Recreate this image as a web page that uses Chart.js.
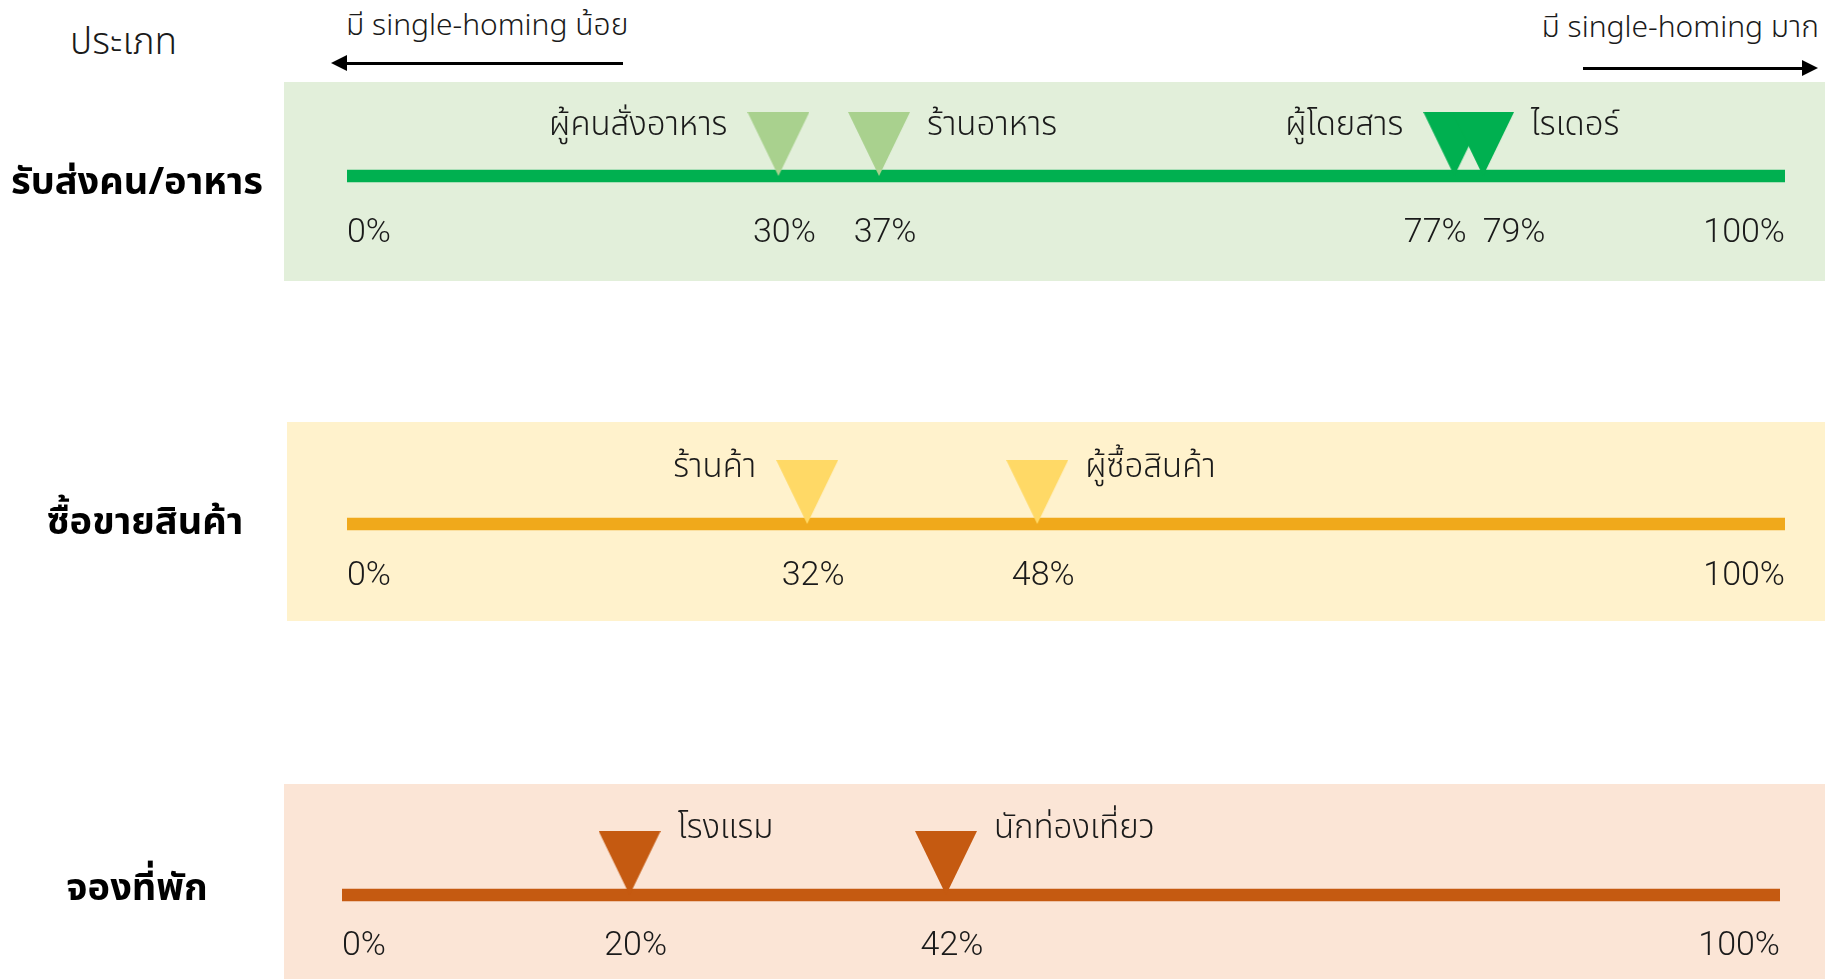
<!DOCTYPE html>
<html><head><meta charset="utf-8">
<script src="https://cdn.jsdelivr.net/npm/chart.js@4.4.1/dist/chart.umd.min.js"></script>
<style>
html,body{margin:0;padding:0;background:#fff;}
body{width:1825px;height:979px;position:relative;overflow:hidden;font-family:"Noto Sans Thai","Noto Sans Thai Looped","Noto Sans",Roboto,sans-serif;}
.rowbox{position:absolute;left:0;width:1825px;}
.hdr{position:absolute;white-space:nowrap;color:#1a1a1a;line-height:1;font-weight:300;}
.arrow{position:absolute;height:3px;background:#000;}
.arrow::before{content:"";position:absolute;top:-7px;border-top:8.5px solid transparent;border-bottom:8.5px solid transparent;}
.arrow.left::before{left:-15px;border-right:16px solid #000;}
.arrow.right::before{right:-15px;border-left:16px solid #000;}
</style></head>
<body>
<div id="title" class="hdr" style="left:70px;top:25px;font-size:37px;"></div>
<div id="noteL" class="hdr" style="left:346px;top:11px;font-size:30px;"></div>
<div class="arrow left" style="left:346px;top:62px;width:277px;"></div>
<div id="noteR" class="hdr" style="right:6px;top:13px;font-size:30px;"></div>
<div class="arrow right" style="left:1583px;top:67px;width:220px;"></div>
<div id="rows"></div>
<script>
// ---- data ----
const categories = ['รับส่งคน/อาหาร', 'ซื้อขายสินค้า', 'จองที่พัก'];
const rideFoodGroups = ['ผู้คนสั่งอาหาร', 'ร้านอาหาร', 'ผู้โดยสาร', 'ไรเดอร์'];
const rideFoodShare = [30, 37, 77, 79];
const shoppingGroups = ['ร้านค้า', 'ผู้ซื้อสินค้า'];
const shoppingShare = [32, 48];
const lodgingGroups = ['โรงแรม', 'นักท่องเที่ยว'];
const lodgingShare = [20, 42];
const scaleEnds = [0, 100];
const headerTitle = 'ประเภท';
const noteLeft = 'มี single-homing น้อย';
const noteRight = 'มี single-homing มาก';

document.getElementById('title').textContent = headerTitle;
document.getElementById('noteL').textContent = noteLeft;
document.getElementById('noteR').textContent = noteRight;

const THAI = '"Noto Sans Thai","Noto Sans Thai Looped","Noto Sans",sans-serif';
const NUM = 'Roboto,"Noto Sans",sans-serif';

const rows = [
  {category: categories[0], groups: rideFoodGroups, values: rideFoodShare},
  {category: categories[1], groups: shoppingGroups, values: shoppingShare},
  {category: categories[2], groups: lodgingGroups, values: lodgingShare}
];
// ---- layout / style ----
const layout = [
  {panelTop:82, panelBottom:281, panelLeft:284, lineY:176, lineStart:347, lineEnd:1785, line:'#00B050', bg:'#E2EFDA',
   marker:['#A9D18E','#A9D18E','#00B050','#00B050'], sides:['left','right','left','right'], nameOffset:41, valueOffset:57, catX:137, catDy:10},
  {panelTop:422, panelBottom:621, panelLeft:287, lineY:524, lineStart:347, lineEnd:1785, line:'#F0A91B', bg:'#FFF2CC',
   marker:['#FFD966','#FFD966'], sides:['left','right'], nameOffset:47, valueOffset:52, catX:145, catDy:2},
  {panelTop:784, panelBottom:979, panelLeft:284, lineY:895, lineStart:342, lineEnd:1780, line:'#C55A11', bg:'#FBE5D6',
   marker:['#C55A11','#C55A11'], sides:['right','right'], nameOffset:57, valueOffset:51, catX:137, catDy:-3}
];

function triangle(color){
  const w = 62, h = 64;
  const c = document.createElement('canvas');
  c.width = w; c.height = h * 2;
  const g = c.getContext('2d');
  g.fillStyle = color;
  g.beginPath(); g.moveTo(0, 0); g.lineTo(w, 0); g.lineTo(w / 2, h); g.closePath(); g.fill();
  return c;
}

function makeDecor(row, L){
  return {
    id: 'decor',
    beforeDraw(chart){
      const ctx = chart.ctx;
      ctx.save();
      ctx.fillStyle = L.bg;
      ctx.fillRect(L.panelLeft, 0, chart.width - L.panelLeft, chart.height);
      ctx.restore();
    },
    afterDatasetsDraw(chart){
      const ctx = chart.ctx, xs = chart.scales.x, ys = chart.scales.y;
      const cy = ys.getPixelForValue(0);
      ctx.save();
      // category label
      ctx.fillStyle = '#000';
      ctx.font = 'bold 38px ' + THAI;
      ctx.textAlign = 'center'; ctx.textBaseline = 'middle';
      ctx.fillText(row.category, L.catX, cy + L.catDy);
      // group names
      ctx.fillStyle = '#1a1a1a';
      ctx.font = '300 33px ' + THAI;
      ctx.textBaseline = 'alphabetic';
      row.values.forEach((v, i) => {
        const px = xs.getPixelForValue(v);
        if (L.sides[i] === 'left') { ctx.textAlign = 'right'; ctx.fillText(row.groups[i], px - 51, cy - L.nameOffset); }
        else { ctx.textAlign = 'left'; ctx.fillText(row.groups[i], px + 48, cy - L.nameOffset); }
      });
      // value labels
      ctx.font = '300 34px ' + NUM;
      ctx.textBaseline = 'middle';
      const vy = cy + L.valueOffset;
      ctx.textAlign = 'left'; ctx.fillText(scaleEnds[0] + '%', xs.getPixelForValue(scaleEnds[0]), vy);
      ctx.textAlign = 'right'; ctx.fillText(scaleEnds[1] + '%', xs.getPixelForValue(scaleEnds[1]), vy);
      const items = row.values.map(v => {
        const t = v + '%';
        return {t, w: ctx.measureText(t).width, c: xs.getPixelForValue(v) + 6};
      }).sort((a, b) => a.c - b.c);
      for (let k = 0; k < 10; k++) {
        for (let i = 1; i < items.length; i++) {
          const a = items[i - 1], b = items[i];
          const need = (a.w + b.w) / 2 + 16, d = b.c - a.c;
          if (d < need) { const s = (need - d) / 2; a.c -= s; b.c += s; }
        }
      }
      ctx.textAlign = 'center';
      items.forEach(it => ctx.fillText(it.t, it.c, vy));
      ctx.restore();
    }
  };
}

const host = document.getElementById('rows');
rows.forEach((row, r) => {
  const L = layout[r];
  const h = L.panelBottom - L.panelTop;
  const box = document.createElement('div');
  box.className = 'rowbox';
  box.style.top = L.panelTop + 'px';
  box.style.height = h + 'px';
  const cv = document.createElement('canvas');
  cv.width = 1825; cv.height = h;
  cv.style.width = '1825px'; cv.style.height = h + 'px';
  box.appendChild(cv);
  host.appendChild(box);
  new Chart(cv, {
    type: 'bar',
    data: {
      labels: [row.category],
      datasets: [
        {type: 'scatter', data: row.values.map(v => ({x: v, y: row.category})),
         pointStyle: L.marker.map(triangle), pointRadius: 5, clip: false, order: 0},
        {type: 'bar', data: [[scaleEnds[0], scaleEnds[1]]], backgroundColor: L.line,
         barThickness: 12, borderWidth: 0, borderSkipped: false, order: 1}
      ]
    },
    options: {
      indexAxis: 'y', responsive: false, animation: false, events: [],
      layout: {padding: {left: L.lineStart, right: 1825 - L.lineEnd,
                         top: L.lineY - 20 - L.panelTop, bottom: L.panelBottom - (L.lineY + 20)}},
      scales: {
        x: {type: 'linear', min: scaleEnds[0], max: scaleEnds[1], display: false},
        y: {type: 'category', display: false}
      },
      plugins: {legend: {display: false}, tooltip: {enabled: false}}
    },
    plugins: [makeDecor(row, L)]
  });
});
</script>
</body></html>
